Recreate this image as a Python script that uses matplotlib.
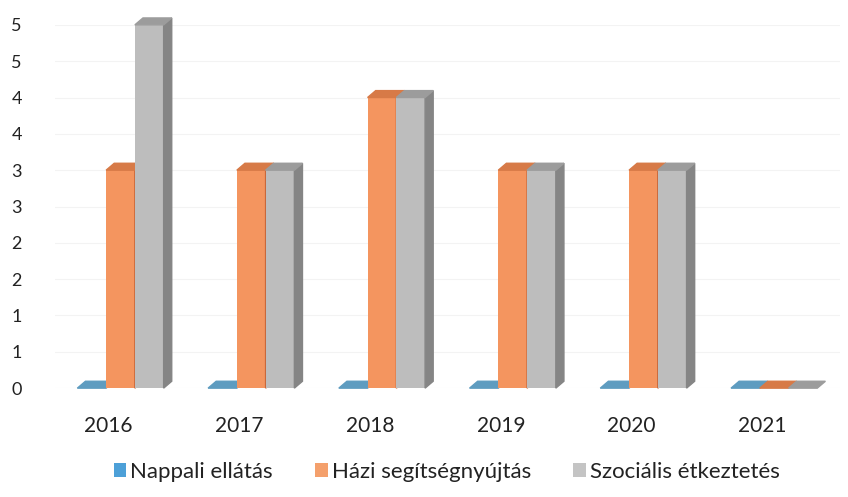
import numpy as np
import matplotlib
matplotlib.use("Agg")
import matplotlib.pyplot as plt
from matplotlib.patches import Polygon

# data
years = ["2016", "2017", "2018", "2019", "2020", "2021"]
nappali = [0, 0, 0, 0, 0, 0]
hazi = [3, 3, 4, 3, 3, 0]
szocialis = [5, 3, 4, 3, 3, 0]
series_names = ["Nappali ellátás", "Házi segítségnyújtás", "Szociális étkeztetés"]
y_ticks = [0, 0.5, 1, 1.5, 2, 2.5, 3, 3.5, 4, 4.5, 5]
y_tick_labels = ["0", "1", "1", "2", "2", "3", "3", "4", "4", "5", "5"]

# colours: front, side, top
styles = [
    ("#4f93c0", "#3d7396", "#5e9cc0"),
    ("#f4955f", "#c9683a", "#d77a47"),
    ("#bdbdbd", "#858585", "#9c9c9c"),
]
legend_colors = ["#4da0d8", "#f4a06c", "#c4c4c4"]

plt.rcParams['font.family'] = ['Lato', 'DejaVu Sans']

fig = plt.figure(figsize=(8.48, 4.97), dpi=100)
ax = fig.add_axes([0.065, 0.219, 0.925, 0.731])

w = 0.22
dx, dy = 0.062, 0.095
x = np.arange(len(years))
all_series = [nappali, hazi, szocialis]

for i in range(len(years)):
    for k, vals in enumerate(all_series):
        h = vals[i]
        x0 = x[i] + (k - 1.5) * w
        front, side, top = styles[k]
        if h > 0:
            ax.bar(x0, h, width=w, align="edge", color=front, zorder=3)
            ax.add_patch(Polygon([(x0 + w, 0), (x0 + w + dx, dy), (x0 + w + dx, h + dy), (x0 + w, h)],
                                 closed=True, color=side, zorder=3, clip_on=False))
        ax.add_patch(Polygon([(x0, h), (x0 + w, h), (x0 + w + dx, h + dy), (x0 + dx, h + dy)],
                             closed=True, color=top, zorder=3, clip_on=False))

for k, name in enumerate(series_names):
    ax.bar([0], [0], width=0, color=legend_colors[k], label=name)

ax.set_xlim(-0.5, 5.5)
ax.set_ylim(0, 5)
ax.set_xticks(x - 0.09)
ax.set_xticklabels(years)
ax.set_yticks(y_ticks)
ax.set_yticklabels(y_tick_labels)
ax.tick_params(axis="both", length=0, colors="#222222")
ax.tick_params(axis="x", pad=20, labelsize=15)
ax.tick_params(axis="y", pad=24, labelsize=13)
ax.grid(axis="y", color="#f3f3f3", linewidth=0.8, zorder=0)
for s in ax.spines.values():
    s.set_visible(False)

fig.legend(loc="lower center", bbox_to_anchor=(0.527, -0.01), ncol=3, frameon=False,
           fontsize=16, handlelength=0.55, handleheight=0.55, handletextpad=0.2,
           columnspacing=1.9, labelcolor="#222222")

fig.savefig("out.png", dpi=100)
